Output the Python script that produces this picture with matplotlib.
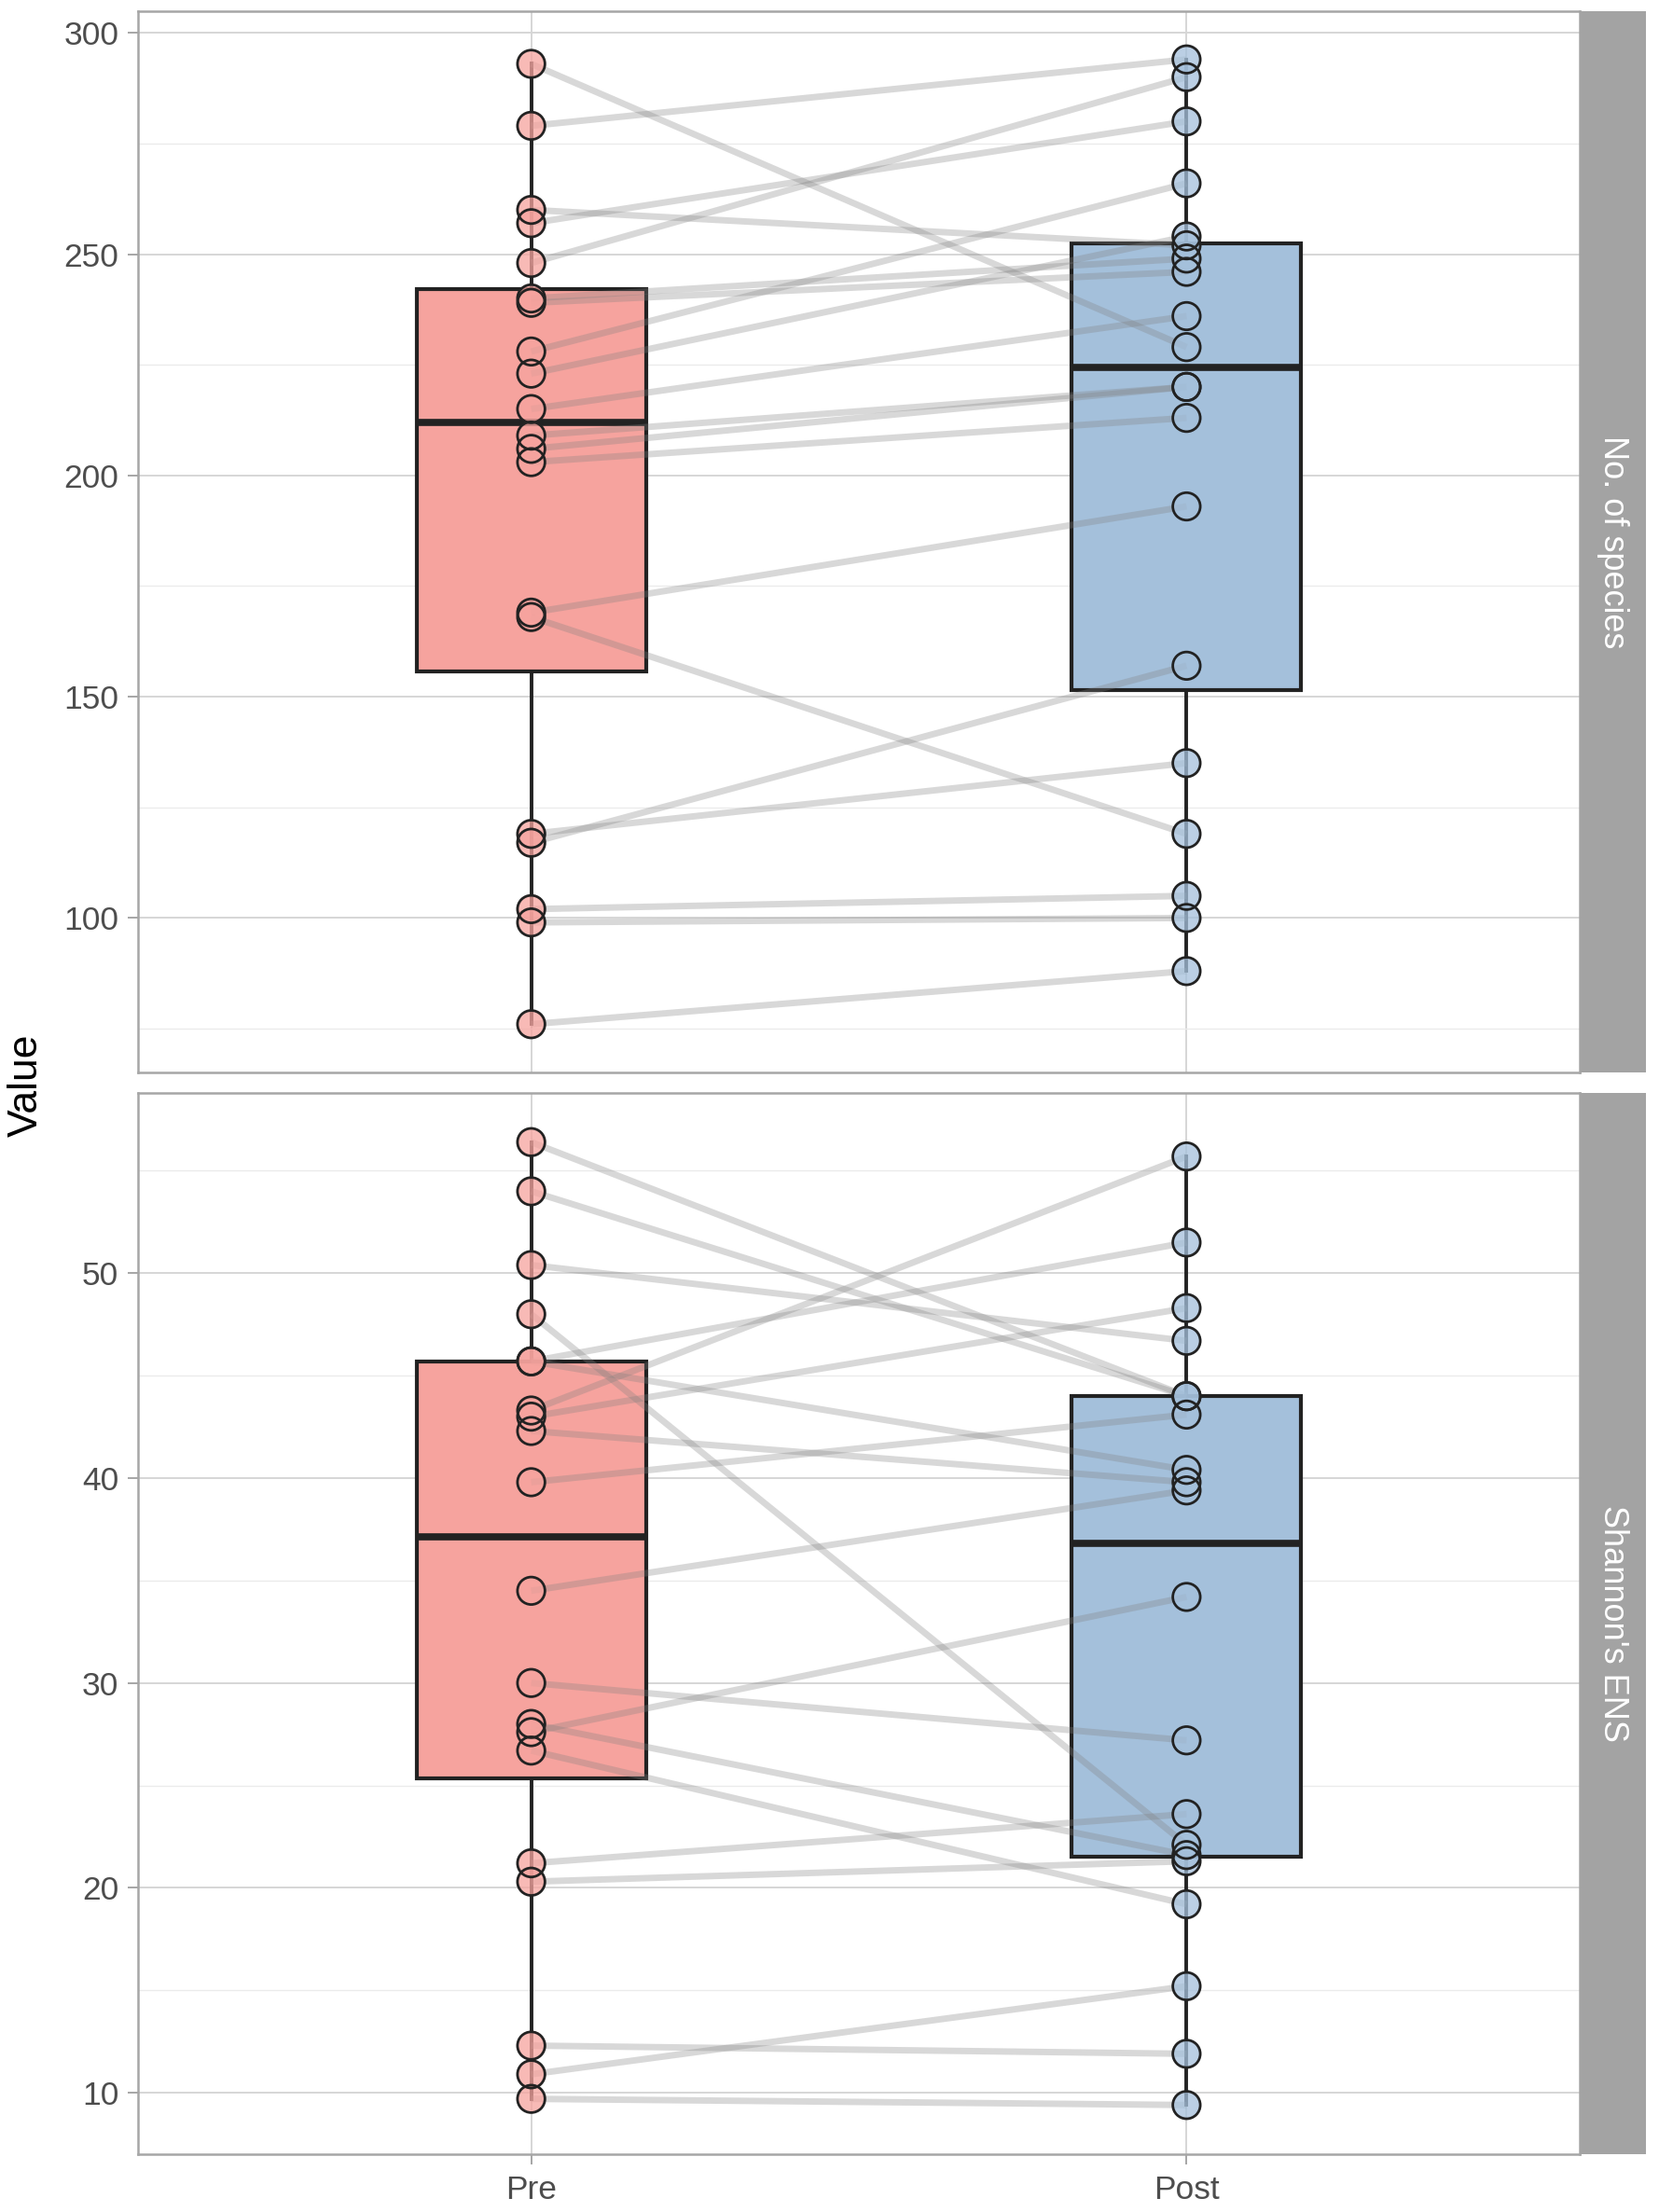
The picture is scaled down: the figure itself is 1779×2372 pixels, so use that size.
import matplotlib
matplotlib.use("Agg")
import matplotlib.pyplot as plt
import numpy as np

plt.rcParams['font.family'] = ['Liberation Sans', 'DejaVu Sans']

groups = ["Pre", "Post"]
panels = ["No. of species", "Shannon's ENS"]

# paired values (same index = same subject)
species_pre = [293, 279, 260, 257, 248, 240, 239, 228, 223, 215, 209, 206, 203, 169, 168, 119, 117, 102, 99, 76]
species_post = [229, 294, 252, 280, 290, 249, 246, 266, 254, 236, 220, 220, 213, 193, 119, 135, 157, 105, 100, 88]

ens_pre = [56.4, 54.0, 50.4, 48.0, 45.7, 45.7, 43.3, 43.0, 42.3, 39.8, 34.5, 30.0, 28.0, 27.6, 26.7, 21.2, 20.3, 12.3, 10.9, 9.7]
ens_post = [44.0, 44.0, 46.7, 22.1, 51.5, 40.4, 55.7, 48.3, 39.8, 43.1, 39.4, 27.2, 21.6, 34.2, 19.2, 23.6, 21.3, 11.9, 15.2, 9.4]

box_colors = ["#F6A39E", "#A4C0DB"]
W, H = 1779, 2372
fig = plt.figure(figsize=(W / 100, H / 100), dpi=100)
fig.patch.set_facecolor("white")

def draw_panel(rect, pre, post, ylim, major, minor, strip_text, show_x):
    ax = fig.add_axes(rect)
    ax.set_facecolor("white")

    bp = ax.boxplot([pre, post], positions=[1, 2], widths=0.35, patch_artist=True,
                    showcaps=False, showfliers=False, whis=1.5, zorder=2)
    for patch, c in zip(bp["boxes"], box_colors):
        patch.set_facecolor(c)
        patch.set_edgecolor("#222222")
        patch.set_linewidth(3.0)
    for w in bp["whiskers"]:
        w.set_color("#222222")
        w.set_linewidth(2.8)
    for m in bp["medians"]:
        m.set_color("#222222")
        m.set_linewidth(5.5)

    for a, b in zip(pre, post):
        ax.plot([1, 2], [a, b], color="#808080", alpha=0.3, linewidth=5,
                solid_capstyle="butt", zorder=3)

    for xpos, vals, c in ((1.0, pre, box_colors[0]), (2.0, post, box_colors[1])):
        ax.scatter(np.full(len(vals), xpos), vals, s=450, facecolor=c, alpha=0.75,
                   edgecolor="none", zorder=4)
        ax.scatter(np.full(len(vals), xpos), vals, s=450, facecolor="none",
                   edgecolor="#222222", linewidth=2.0, zorder=5)

    ax.set_xlim(0.4, 2.6)
    ax.set_ylim(*ylim)
    ax.set_yticks(major)
    ax.set_yticklabels([str(v) for v in major])
    ax.set_yticks(minor, minor=True)
    ax.set_xticks([1, 2])
    ax.set_xticklabels(groups if show_x else ["", ""])
    ax.grid(True, which="major", color="#D6D6D6", linewidth=1.4, zorder=0)
    ax.grid(True, which="minor", axis="y", color="#EBEBEB", linewidth=1.0, zorder=0)
    ax.set_axisbelow(True)
    for s in ax.spines.values():
        s.set_color("#A6A6A6")
        s.set_linewidth(1.8)
    ax.tick_params(axis="y", which="major", length=8, width=1.4, color="#A6A6A6",
                   labelsize=25.5, labelcolor="#4D4D4D", pad=7)
    ax.tick_params(axis="y", which="minor", length=0)
    if show_x:
        ax.tick_params(axis="x", length=8, width=1.4, color="#A6A6A6",
                       labelsize=25.5, labelcolor="#4D4D4D", pad=8)
    else:
        ax.tick_params(axis="x", length=0, labelbottom=False)

    # facet strip
    sx = ax.get_position()
    strip = fig.add_axes([sx.x1, sx.y0, 71 / W, sx.height])
    strip.set_facecolor("#A3A3A3")
    strip.set_xticks([])
    strip.set_yticks([])
    for s in strip.spines.values():
        s.set_visible(False)
    strip.text(0.5, 0.5, strip_text, rotation=-90, ha="center", va="center",
               color="white", fontsize=26, transform=strip.transAxes)
    return ax

draw_panel([148 / W, (H - 1150) / H, 1546 / W, 1138 / H], species_pre, species_post,
           (65.1, 304.9), [100, 150, 200, 250, 300], [75, 125, 175, 225, 275],
           panels[0], False)
draw_panel([148 / W, (H - 2310) / H, 1546 / W, 1138 / H], ens_pre, ens_post,
           (7.0, 58.8), [10, 20, 30, 40, 50], [15, 25, 35, 45, 55],
           panels[1], True)

fig.text(28 / W, 1 - 1164 / H, "Value", rotation=90, ha="center", va="center",
         fontsize=32, color="black")

fig.savefig("out.png", dpi=100)
